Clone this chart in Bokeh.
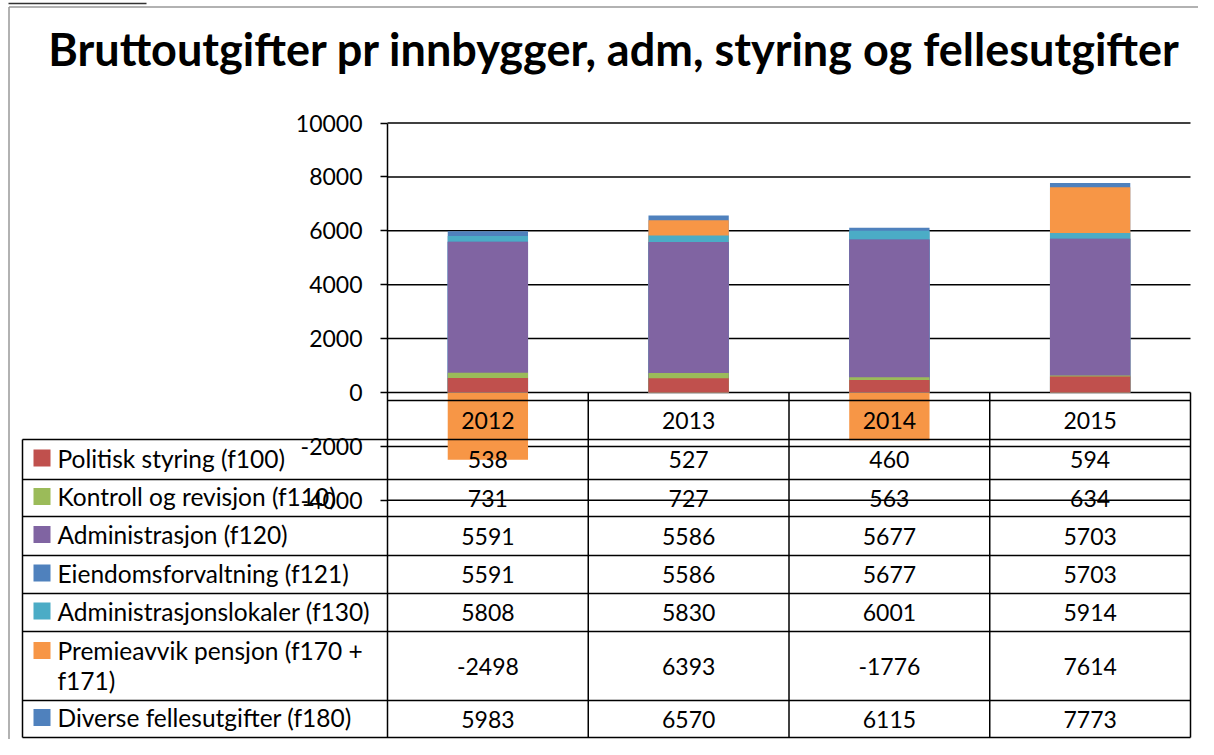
from bokeh.plotting import figure
from bokeh.models import Range1d, FixedTicker, LinearAxis, CustomJSTickFormatter
from bokeh.core.properties import value
from bokeh.embed import file_html
from bokeh.resources import INLINE

# ---------------- data ----------------
title = "Bruttoutgifter pr innbygger, adm, styring og fellesutgifter"
years = ["2012", "2013", "2014", "2015"]
series_names = [
    "Politisk styring (f100)",
    "Kontroll og revisjon (f110)",
    "Administrasjon (f120)",
    "Eiendomsforvaltning (f121)",
    "Administrasjonslokaler (f130)",
    "Premieavvik pensjon (f170 + f171)",
    "Diverse fellesutgifter (f180)",
]
politisk = [538, 527, 460, 594]
kontroll = [731, 727, 563, 634]
administrasjon = [5591, 5586, 5677, 5703]
eiendom = [5591, 5586, 5677, 5703]
lokaler = [5808, 5830, 6001, 5914]
premieavvik = [-2498, 6393, -1776, 7614]
diverse = [5983, 6570, 6115, 7773]
y_ticks = [-4000, -2000, 0, 2000, 4000, 6000, 8000, 10000]

series_values = [politisk, kontroll, administrasjon, eiendom, lokaler, premieavvik, diverse]
colors = ["#C0504D", "#9BBB59", "#8064A2", "#4F81BD", "#4BACC6", "#F79646", "#4F81BD"]

# ---------------- geometry (canvas pixels -> data) ----------------
W, H = 1198, 739
COL_LEFT, COL_RIGHT = 387, 1190      # pixel span of the category columns
Y_ZERO, Y_TOP = 392, 122.5           # pixel rows of value 0 and 10000
FONT = "Lato"
FS = "23px"          # numbers
FS_LEG = "24.5px"    # legend column text
n = len(years)


def dx(px):
    return (px - COL_LEFT) / ((COL_RIGHT - COL_LEFT) / n)


def dy(py):
    return (Y_ZERO - py) * y_ticks[-1] / (Y_ZERO - Y_TOP)


p = figure(width=W, height=H,
           x_range=Range1d(dx(0), dx(W)), y_range=Range1d(dy(H), dy(0)),
           x_axis_type=None, y_axis_type=None,
           output_backend="svg", toolbar_location=None,
           min_border_left=0, min_border_right=0, min_border_top=0, min_border_bottom=0)
p.title.visible = False
p.outline_line_color = None
p.background_fill_color = "white"
p.border_fill_color = "white"
p.xgrid.visible = False
p.ygrid.visible = False

xc = [i + 0.5 for i in range(n)]     # category centres

# table layout rows (pixels)
header_top, header_bot = 400, 439
row_edges = [439, 479, 516, 555, 593, 631, 700, 737]
row_centers = [(a + b) / 2 for a, b in zip(row_edges[:-1], row_edges[1:])]

# y axis at the left edge of the category columns
yaxis = LinearAxis(fixed_location=0, bounds=(dy(row_edges[-1]), y_ticks[-1]))
yaxis.ticker = FixedTicker(ticks=y_ticks)
yaxis.formatter = CustomJSTickFormatter(code="return tick.toFixed(0)")
yaxis.minor_tick_line_color = None
yaxis.major_tick_in = 0
yaxis.major_tick_out = 7
yaxis.axis_line_width = 1.5
yaxis.major_tick_line_width = 1.5
yaxis.axis_line_color = "black"
yaxis.major_tick_line_color = "black"
yaxis.major_label_text_font = FONT
yaxis.major_label_text_font_size = FS
yaxis.major_label_text_color = "black"
yaxis.major_label_standoff = 18
p.add_layout(yaxis, "left")

# grid lines across the category columns
p.segment(x0=[0] * len(y_ticks), x1=[n] * len(y_ticks), y0=y_ticks, y1=y_ticks,
          line_color="black", line_width=1.5)

# bars: each series from 0, drawn largest-first (overlapping bars)
for vals, col in reversed(list(zip(series_values, colors))):
    p.vbar(x=xc, top=vals, bottom=0, width=0.4, fill_color=col, line_color=None)

# ---------------- data table ----------------
p.text(x=xc, y=[dy((header_top + header_bot) / 2)] * n, text=years,
       text_align="center", text_baseline="middle", text_font=value(FONT),
       text_font_size=FS, text_color="black")
for vals, yc in zip(series_values, row_centers):
    p.text(x=xc, y=[dy(yc)] * n, text=[str(v) for v in vals],
           text_align="center", text_baseline="middle", text_font=value(FONT),
           text_font_size=FS, text_color="black")

x0, y0, x1, y1 = [], [], [], []
x0.append(0); x1.append(n); y0.append(dy(header_top)); y1.append(dy(header_top))
for e in row_edges:
    x0.append(dx(22)); x1.append(n); y0.append(dy(e)); y1.append(dy(e))
x0.append(dx(22)); x1.append(dx(22)); y0.append(dy(row_edges[0])); y1.append(dy(row_edges[-1]))
for k in range(1, n + 1):
    x0.append(k); x1.append(k); y0.append(0); y1.append(dy(row_edges[-1]))
p.segment(x0=x0, y0=y0, x1=x1, y1=y1, line_color="black", line_width=1.5)

# legend column
lx, ly, lt, sq_l, sq_r, sq_t, sq_b, sq_c = [], [], [], [], [], [], [], []
for name, col, yc, (a, b) in zip(series_names, colors, row_centers,
                                  zip(row_edges[:-1], row_edges[1:])):
    if b - a > 50:
        yline = a + 19
        lx += [dx(57), dx(57)]
        ly += [dy(yline), dy(yline + 30)]
        lt += ["Premieavvik pensjon (f170 +", "f171)"]
    else:
        yline = yc - 1.5
        lx.append(dx(57)); ly.append(dy(yline)); lt.append(name)
    sq_l.append(dx(33)); sq_r.append(dx(50))
    sq_t.append(dy(yline - 8.5)); sq_b.append(dy(yline + 8.5)); sq_c.append(col)
p.quad(left=sq_l, right=sq_r, top=sq_t, bottom=sq_b, fill_color=sq_c, line_color=None)
p.text(x=lx, y=ly, text=lt, text_align="left", text_baseline="middle",
       text_font=value(FONT), text_font_size=FS_LEG, text_color="black")

# title
p.text(x=[dx(614)], y=[dy(48)], text=[title], text_align="center",
       text_baseline="alphabetic", text_font=value(FONT), text_font_style="bold",
       text_font_size="45px", text_color="black")

# outer chart border
p.segment(x0=[dx(8.5), dx(8.5)], y0=[dy(6.5), dy(6.5)], x1=[dx(W), dx(8.5)], y1=[dy(6.5), dy(H)],
          line_color="#999999", line_width=1.5)
p.segment(x0=[dx(8)], y0=[dy(3)], x1=[dx(146)], y1=[dy(3)], line_color="#333333", line_width=1.5)

open("out.html", "w").write(file_html(p, INLINE))
